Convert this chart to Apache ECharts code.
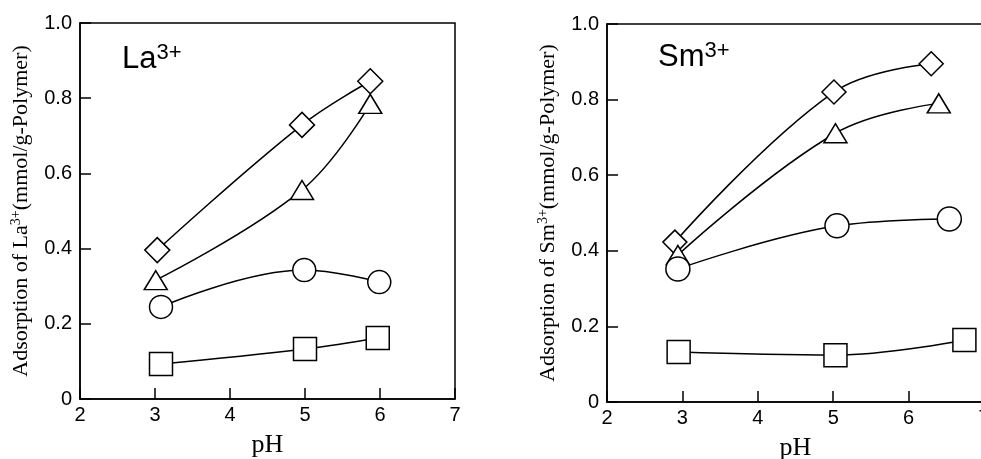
<!DOCTYPE html>
<html><head><meta charset="utf-8">
<script src="https://cdn.jsdelivr.net/npm/echarts@6/dist/echarts.min.js"></script>
<style>html,body{margin:0;padding:0;background:#fff}#c{width:981px;height:459px}</style>
</head><body><div id="c"></div>
<script>
// La3+ panel data [pH, adsorption]
const laDiamond = [[3.03, 0.396], [4.96, 0.729], [5.87, 0.845]];
const laTriangle = [[3.01, 0.316], [4.96, 0.556], [5.87, 0.785]];
const laCircle = [[3.08, 0.245], [4.99, 0.343], [5.99, 0.311]];
const laSquare = [[3.08, 0.093], [5.0, 0.133], [5.97, 0.162]];
// Sm3+ panel data
const smDiamond = [[2.90, 0.423], [5.01, 0.82], [6.30, 0.895]];
const smTriangle = [[2.94, 0.389], [5.03, 0.711], [6.40, 0.79]];
const smCircle = [[2.94, 0.352], [5.05, 0.466], [6.54, 0.484]];
const smSquare = [[2.95, 0.132], [5.03, 0.124], [6.74, 0.164]];
const yTicks = ['0', '0.2', '0.4', '0.6', '0.8', '1.0'];
const xName = 'pH';
const labels = ['La', 'Sm'];

const sans = 'Liberation Sans, Arial, sans-serif';
const serif = 'Liberation Serif, Times New Roman, serif';

function xAx(gi, gap) {
  return {
    gridIndex: gi, type: 'value', min: 2, max: 7, interval: 1,
    name: xName, nameLocation: 'middle', nameGap: gap,
    nameTextStyle: { fontFamily: serif, fontSize: 26, lineHeight: 30, color: '#000' },
    axisLine: { lineStyle: { color: '#000', width: 1.5 } },
    axisTick: { inside: true, length: 11, lineStyle: { color: '#000', width: 1.5 } },
    axisLabel: { fontFamily: sans, fontSize: 20, color: '#000', margin: 6 },
    splitLine: { show: false }
  };
}
function yAx(gi, el) {
  return {
    gridIndex: gi, type: 'value', min: 0, max: 1, interval: 0.2,
    name: '{t|Adsorption of ' + el + '}{s|3+}{t|(mmol/g-Polymer)}',
    nameLocation: 'middle', nameGap: 46, nameRotate: 90,
    nameTextStyle: {
      color: '#000',
      rich: {
        t: { fontFamily: serif, fontSize: 22, lineHeight: 25, color: '#000' },
        s: { fontFamily: serif, fontSize: 14, lineHeight: 14, verticalAlign: 'top', color: '#000' }
      }
    },
    axisLine: { lineStyle: { color: '#000', width: 1.5 } },
    axisTick: { inside: true, length: 11, lineStyle: { color: '#000', width: 1.5 } },
    axisLabel: { fontFamily: sans, fontSize: 20, color: '#000', margin: 8,
      formatter: v => yTicks[Math.round(v / 0.2)] },
    splitLine: { show: false }
  };
}
function ser(gi, data, sym, size) {
  return {
    type: 'line', xAxisIndex: gi, yAxisIndex: gi, data: data, smooth: 0.4,
    symbol: sym, symbolSize: size, showSymbol: true,
    lineStyle: { color: '#000', width: 1.5 },
    itemStyle: { color: '#fff', borderColor: '#000', borderWidth: 1.5 },
    z: 3
  };
}
const titleRich = {
  a: { fontFamily: sans, fontSize: 31, fontWeight: 'normal', color: '#000', lineHeight: 34 },
  b: { fontFamily: sans, fontSize: 22, fontWeight: 'normal', color: '#000', lineHeight: 22, verticalAlign: 'top' }
};
const chart = echarts.init(document.getElementById('c'), null, { renderer: 'canvas' });
chart.setOption({
  animation: false,
  backgroundColor: '#fff',
  title: [
    { text: '{a|' + labels[0] + '}{b|3+}', left: 122, top: 42, padding: 0, textStyle: { fontWeight: 'normal', rich: titleRich } },
    { text: '{a|' + labels[1] + '}{b|3+}', left: 658, top: 40, padding: 0, textStyle: { fontWeight: 'normal', rich: titleRich } }
  ],
  grid: [
    { left: 80, top: 23, width: 375, height: 376, outerBoundsMode: 'none', containLabel: false, show: true, borderColor: '#000', borderWidth: 1.5, backgroundColor: 'transparent' },
    { left: 607, top: 24, width: 377, height: 378, outerBoundsMode: 'none', containLabel: false, show: true, borderColor: '#000', borderWidth: 1.5, backgroundColor: 'transparent' }
  ],
  xAxis: [xAx(0, 30), xAx(1, 26)],
  yAxis: [yAx(0, 'La'), yAx(1, 'Sm')],
  series: [
    ser(0, laDiamond, 'diamond', 25),
    ser(0, laTriangle, 'triangle', [23, 19]),
    ser(0, laCircle, 'circle', 23),
    ser(0, laSquare, 'rect', 23),
    ser(1, smDiamond, 'diamond', 24),
    ser(1, smTriangle, 'triangle', [23, 19]),
    ser(1, smCircle, 'circle', 24),
    ser(1, smSquare, 'rect', 23)
  ]
});
</script></body></html>
